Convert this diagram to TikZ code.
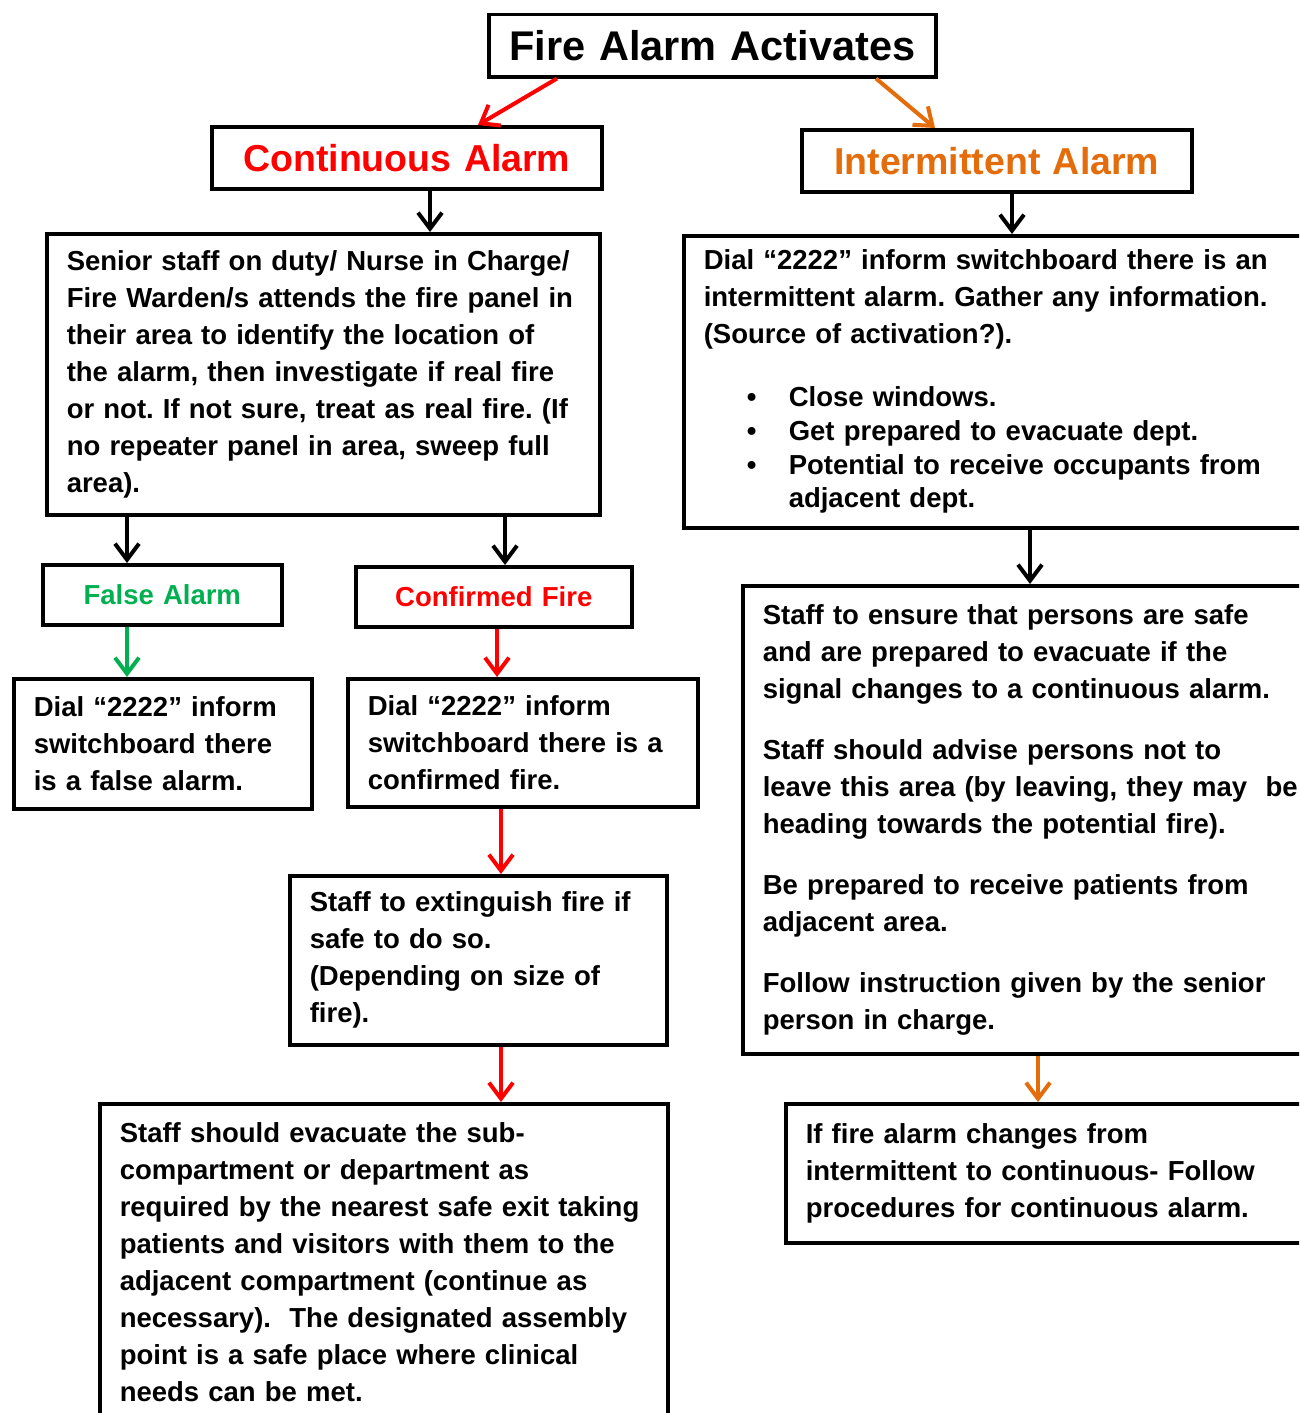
\documentclass[tikz,border=0pt]{standalone}
\usepackage{fontspec}
\setmainfont{Liberation Sans}
\usepackage{tikz}
\usetikzlibrary{arrows.meta, positioning}

\definecolor{alarmred}{RGB}{255,0,0}
\definecolor{alarmorange}{RGB}{228,108,10}
\definecolor{alarmgreen}{RGB}{0,176,80}

\hyphenpenalty=10000
\exhyphenpenalty=10000
\frenchspacing

\newcommand{\bodysize}{\fontsize{27.5}{37}\selectfont\bfseries}
\newcommand{\bul}{\hspace*{43pt}\makebox[42pt][l]{\textbullet}}

\tikzset{
  flowbox/.style={draw, line width=3.5pt, anchor=north west, inner xsep=20pt, inner ysep=4pt, align=left, font=\bodysize},
  headbox/.style={flowbox, align=center},
  flow/.style={->, line width=4pt},
}

\begin{document}
\begin{tikzpicture}[x=1pt, y=-1pt, >={Straight Barb[length=16pt,width=24pt]}]
    \useasboundingbox (0,0) rectangle (1299,1413);
    \clip (0,0) rectangle (1299,1413);

    % 1. Hop tieu de
    \node[headbox, text width=407pt, minimum height=62pt, font=\fontsize{41.5}{48}\selectfont\bfseries] (fire) at (487,13) {Fire Alarm Activates};
    \node[headbox, text width=350pt, minimum height=62pt, font=\fontsize{37.5}{44}\selectfont\bfseries, text=alarmred] (cont) at (210,125) {Continuous Alarm};
    \node[headbox, text width=350pt, minimum height=62pt, font=\fontsize{37.5}{44}\selectfont\bfseries, text=alarmorange] (inter) at (800,128) {Intermittent Alarm};

    % 2. Nhanh bao dong lien tuc
    \node[flowbox, text width=513pt, minimum height=281pt] (senior) at (45,232) {Senior staff on duty/ Nurse in Charge/\\ Fire Warden/s attends the fire panel in\\ their area to identify the location of\\ the alarm, then investigate if real fire\\ or not. If not sure, treat as real fire. (If\\ no repeater panel in area, sweep full\\ area).};
    \node[headbox, text width=199pt, minimum height=60pt, text=alarmgreen] (false) at (41,563) {False Alarm};
    \node[headbox, text width=236pt, minimum height=60pt, text=alarmred] (confirmed) at (354,565) {Confirmed Fire};
    \node[flowbox, text width=258pt, minimum height=130pt] (falsedial) at (12,677) {Dial “2222” inform\\ switchboard there\\ is a false alarm.};
    \node[flowbox, text width=310pt, minimum height=128pt] (confdial) at (346,677) {Dial “2222” inform\\ switchboard there is a\\ confirmed fire.};
    \node[flowbox, text width=337pt, minimum height=169pt] (exting) at (288,874) {Staff to extinguish fire if\\ safe to do so.\\ (Depending on size of\\ fire).};
    \node[flowbox, text width=528pt, minimum height=316pt] (evac) at (98,1102) {Staff should evacuate the sub-\\ compartment or department as\\ required by the nearest safe exit taking\\ patients and visitors with them to the\\ adjacent compartment (continue as\\ necessary).\ \ The designated assembly\\ point is a safe place where clinical\\ needs can be met.};

    % 3. Nhanh bao dong ngat quang
    \node[flowbox, text width=600pt, minimum height=292pt] (dialint) at (682,234) {Dial “2222” inform switchboard there is an\\ intermittent alarm.\ Gather any information.\\ (Source of activation?).\\[26pt] \bul Close windows.\\[-3pt] \bul Get prepared to evacuate dept.\\[-3pt] \bul Potential to receive occupants from\\[-4pt] \hspace*{85pt}adjacent dept.};
    \node[flowbox, text width=570pt, minimum height=468pt] (ensure) at (741,584) {Staff to ensure that persons are safe\\ and are prepared to evacuate if the\\ signal changes to a continuous alarm.\\[24pt] Staff should advise persons not to\\ leave this area (by leaving, they may\ \ be\\ heading towards the potential fire).\\[24pt] Be prepared to receive patients from\\ adjacent area.\\[24pt] Follow instruction given by the senior\\ person in charge.};
    \node[flowbox, text width=520pt, minimum height=139pt] (iffire) at (784,1102) {If fire alarm changes from\\ intermittent to continuous- Follow\\ procedures for continuous alarm.};

    % 4. Cac mui ten
    \draw[flow, alarmred] ([xshift=70pt]fire.south west) -- ([xshift=268pt]cont.north west);
    \draw[flow, alarmorange] ([xshift=389pt]fire.south west) -- ([xshift=135pt]inter.north west);
    \draw[flow] ([xshift=220pt]cont.south west) -- ([xshift=220pt]cont.south west |- senior.north);
    \draw[flow] ([xshift=212pt]inter.south west) -- ([xshift=212pt]inter.south west |- dialint.north);
    \draw[flow] ([xshift=82pt]senior.south west) -- ([xshift=82pt]senior.south west |- false.north);
    \draw[flow] ([xshift=460pt]senior.south west) -- ([xshift=460pt]senior.south west |- confirmed.north);
    \draw[flow, alarmgreen] ([xshift=86pt]false.south west) -- ([xshift=86pt]false.south west |- falsedial.north);
    \draw[flow, alarmred] ([xshift=143pt]confirmed.south west) -- ([xshift=143pt]confirmed.south west |- confdial.north);
    \draw[flow, alarmred] ([xshift=155pt]confdial.south west) -- ([xshift=155pt]confdial.south west |- exting.north);
    \draw[flow, alarmred] ([xshift=213pt]exting.south west) -- ([xshift=213pt]exting.south west |- evac.north);
    \draw[flow] ([xshift=348pt]dialint.south west) -- ([xshift=348pt]dialint.south west |- ensure.north);
    \draw[flow, alarmorange] ([xshift=297pt]ensure.south west) -- ([xshift=297pt]ensure.south west |- iffire.north);
\end{tikzpicture}
\end{document}
